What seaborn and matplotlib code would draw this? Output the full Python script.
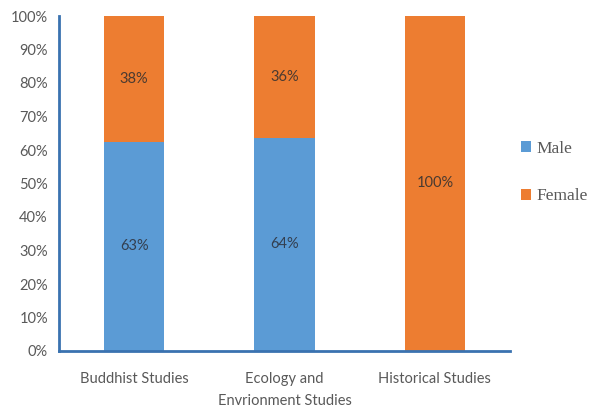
import math
import matplotlib
matplotlib.use("Agg")
import matplotlib.pyplot as plt
import seaborn as sns
import pandas as pd
from matplotlib.patches import Patch

categories = ["Buddhist Studies", "Ecology and\nEnvrionment Studies", "Historical Studies"]
male = [62.5, 63.6, 0.0]
female = [37.5, 36.4, 100.0]
yticks = [0, 10, 20, 30, 40, 50, 60, 70, 80, 90, 100]

blue = "#5B9BD5"
orange = "#ED7D31"
axis_col = "#3A72B0"
text_col = "#595959"

sns.set_theme(style="white")
plt.rcParams['font.family'] = ['Lato', 'DejaVu Sans']

df = pd.DataFrame({"cat": categories, "male": male, "female": female})
df["total"] = df["male"] + df["female"]

fig = plt.figure(figsize=(5.94, 4.12), dpi=100)
ax = fig.add_axes([59/594, 1-351/412, (510-59)/594, (351-16)/412])

sns.barplot(data=df, x="cat", y="total", color=orange, width=0.4, ax=ax,
            saturation=1, order=categories, linewidth=0)
sns.barplot(data=df, x="cat", y="male", color=blue, width=0.4, ax=ax,
            saturation=1, order=categories, linewidth=0)

def lab(v):
    return f"{math.floor(v + 0.5)}%"

for i, (m, f) in enumerate(zip(male, female)):
    if m > 0:
        ax.text(i, m/2, lab(m), ha="center", va="center", fontsize=10.5, color="#333F50")
    if f > 0:
        ax.text(i, m + f/2, lab(f), ha="center", va="center", fontsize=10.5, color="#4A3A30")

ax.set_xlim(-0.5, 2.5)
ax.set_ylim(0, 100)
ax.set_yticks(yticks)
ax.set_yticklabels([f"{t}%" for t in yticks])
ax.set_xlabel("")
ax.set_ylabel("")
ax.tick_params(axis="both", length=0, labelsize=10.5, colors=text_col, pad=8)
ax.tick_params(axis="x", pad=15)
for t in ax.get_xticklabels():
    t.set_linespacing(1.7)
for s in ["top", "right"]:
    ax.spines[s].set_visible(False)
for s in ["left", "bottom"]:
    ax.spines[s].set_color(axis_col)
    ax.spines[s].set_linewidth(2)

handles = [Patch(facecolor=blue, label="Male", linewidth=0),
           Patch(facecolor=orange, label="Female", linewidth=0)]
fig.legend(handles=handles, loc="upper left", bbox_to_anchor=(521/594, 1-141/412),
           frameon=False, prop={"family": "Liberation Serif", "size": 12.5},
           labelcolor=text_col, handlelength=0.6, handleheight=0.6,
           handletextpad=0.3, labelspacing=1.8, borderpad=0, borderaxespad=0)

fig.savefig("out.png", dpi=100)
